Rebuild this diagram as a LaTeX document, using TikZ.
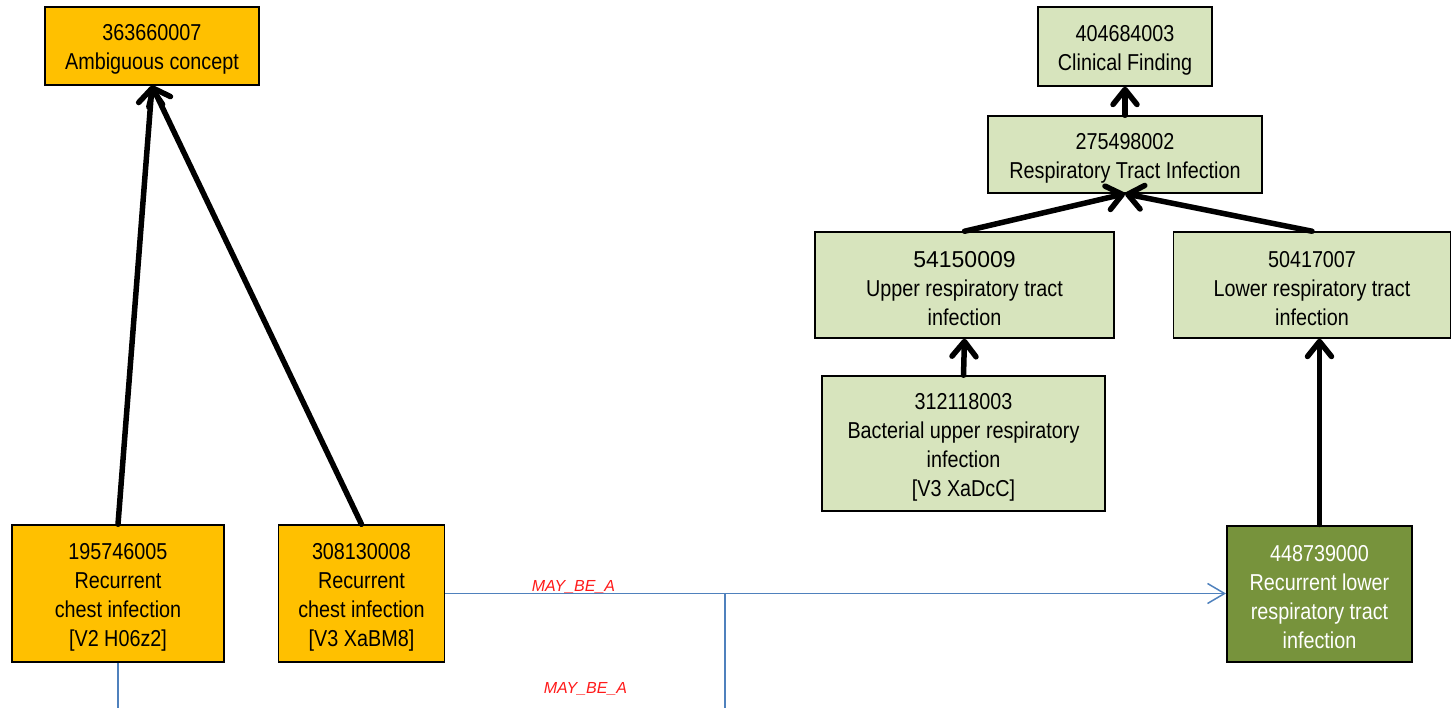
\documentclass[tikz,border=0pt]{standalone}
\usepackage{fontspec}
\setmainfont{Liberation Sans}
\newfontfamily\narrowfont[FakeStretch=0.86]{Liberation Sans}
\usetikzlibrary{arrows.meta}
\definecolor{conceptorange}{HTML}{FFC000}
\definecolor{conceptpale}{HTML}{D7E4BD}
\definecolor{conceptdark}{HTML}{77933C}
\definecolor{mapblue}{HTML}{4F81BD}
\definecolor{maplabel}{HTML}{FF1A1A}
% taller first line, so each label block sits a little lower in its box
\newcommand\cptop{\rule{0pt}{23pt}}
\tikzset{
  concept/.style={draw=black, line width=1.5pt, inner sep=0pt, align=center,
    font=\narrowfont\fontsize{23}{29}\selectfont},
  orangebox/.style={concept, fill=conceptorange},
  palebox/.style={concept, fill=conceptpale},
  darkbox/.style={concept, fill=conceptdark, text=white, line width=2pt},
  isa/.style={line width=5.5pt, line cap=round,
    -{Straight Barb[length=15pt, width=24pt, line cap=round, round]}},
  maybe/.style={draw=mapblue, line width=1.5pt},
  maybetip/.style={maybe, -{Straight Barb[length=17pt, width=20pt]}},
  rellabel/.style={text=maplabel, font=\itshape\fontsize{16}{18}\selectfont, inner sep=0pt}
}
\begin{document}
\begin{tikzpicture}[x=1pt, y=-1pt]
\useasboundingbox (0,0) rectangle (1451,708);

% concepts, sized box by box
\node[orangebox, minimum width=214pt, minimum height=78pt] (amb) at (152,46) {\cptop 363660007\\Ambiguous concept};
\node[palebox, minimum width=174pt, minimum height=79pt] (clin) at (1125,46.5) {\cptop 404684003\\Clinical Finding};
\node[palebox, minimum width=274pt, minimum height=77pt] (rti) at (1125,154.5) {\cptop 275498002\\Respiratory Tract Infection};
\node[palebox, minimum width=299pt, minimum height=106pt] (urti) at (964.5,285)
  {\cptop{\normalfont\fontsize{23}{29}\selectfont 54150009}\\Upper respiratory tract\\infection};
\node[palebox, minimum width=277pt, minimum height=106pt] (lrti) at (1312,285) {\cptop 50417007\\Lower respiratory tract\\infection};
\node[palebox, minimum width=283pt, minimum height=135pt] (burti) at (963.5,443.5) {\cptop 312118003\\Bacterial upper respiratory\\infection\\{}[V3 XaDcC]};
\node[orangebox, minimum width=212pt, minimum height=137pt] (rci2) at (118,593.5) {\cptop 195746005\\Recurrent\\chest infection\\{}[V2 H06z2]};
\node[orangebox, minimum width=166pt, minimum height=137pt] (rci3) at (361.5,593.5) {\cptop 308130008\\Recurrent\\chest infection\\{}[V3 XaBM8]};
\node[darkbox, minimum width=185pt, minimum height=136pt] (rlrti) at (1319.5,593.5) {\cptop 448739000\\Recurrent lower\\respiratory tract\\infection};

% is-a links
\draw[isa] (rci2.north) -- (amb.south);
\draw[isa] (rci3.north) -- (amb.south);
\draw[isa] (rti.north) -- (clin.south);
\draw[isa] (urti.north) -- (rti.south);
\draw[isa] (lrti.north) -- (rti.south);
\draw[isa] (burti.north) -- (urti.south);
\draw[isa] (rlrti.north) -- (rlrti.north |- lrti.south);

% may-be-a links
\coordinate (branch) at (725,593);
\coordinate (branchend) at (725,708);
\coordinate (leftend) at (118,708);
\draw[maybetip] (rci3.east) -- (rlrti.west);
\draw[maybe] (branch) -- (branchend);
\draw[maybe] (rci2.south) -- (leftend);
\node[rellabel] (lab1) at (573.5,587) {MAY\_BE\_A};
\node[rellabel] (lab2) at (585.5,689) {MAY\_BE\_A};
\end{tikzpicture}
\end{document}
